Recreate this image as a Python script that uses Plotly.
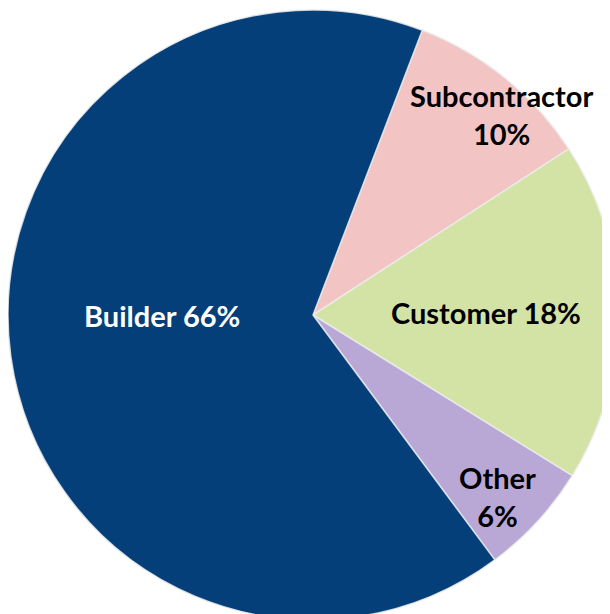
import plotly.graph_objects as go

labels = ["Subcontractor", "Customer", "Other", "Builder"]
values = [10, 18, 6, 66]
colors = ["#F2C4C4", "#D3E3A6", "#B9A8D6", "#053F7A"]
label_text = ["Subcontractor<br>10%", "Customer 18%", "Other<br>6%", "Builder 66%"]
label_font_colors = ["black", "black", "black", "white"]
# label anchor positions in pixels within the figure (style)
label_px = [(493, 107), (478, 304), (489, 488), (154, 307)]

W, H = 610, 614

fig = go.Figure(go.Pie(
    labels=labels,
    values=values,
    sort=False,
    direction="clockwise",
    rotation=21,
    textinfo="none",
    hoverinfo="label+percent",
    marker=dict(colors=colors, line=dict(color="rgba(235,235,235,0.85)", width=1.5)),
    domain=dict(x=[0, 1], y=[0, 1]),
    showlegend=False,
))

for t, c, (px, py) in zip(label_text, label_font_colors, label_px):
    fig.add_annotation(
        x=px / W, y=1 - py / H, xref="paper", yref="paper",
        text="<b>" + t + "</b>", showarrow=False,
        font=dict(family="Lato", size=29, color=c),
        xanchor="center", yanchor="middle", align="center",
    )

fig.update_layout(
    width=W, height=H,
    margin=dict(l=0, r=0, t=0, b=0),
    paper_bgcolor="white", plot_bgcolor="white",
)

fig.write_html("out.html")
